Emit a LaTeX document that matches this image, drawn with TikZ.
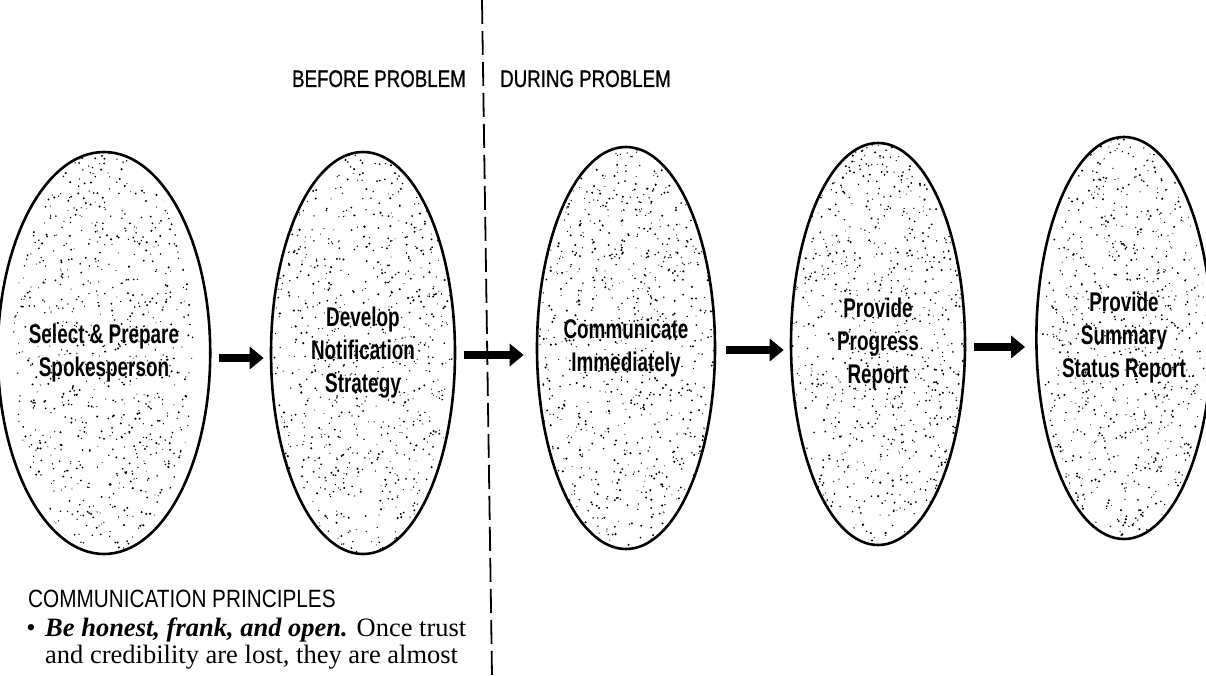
\documentclass[tikz,border=0pt]{standalone}
\usepackage{fontspec}
\setmainfont{Liberation Serif}
\newfontfamily\ellfont[FakeStretch=0.7]{Liberation Sans}
\newfontfamily\headfont[FakeStretch=0.78,FakeBold=0.8]{Liberation Sans}
\newfontfamily\princfont[FakeStretch=0.83]{Liberation Sans}
\usetikzlibrary{shapes.geometric,arrows.meta}

\newcommand{\stippleell}[3]{% coordinate name, a, b
  \begin{scope}
    \clip (#1) ellipse ({#2} and {#3});
    \foreach \k in {1,...,1000}{
      \pgfmathsetmacro{\px}{#2*rand}
      \pgfmathsetmacro{\py}{#3*rand}
      \pgfmathsetmacro{\pr}{0.5+0.7*rnd}
      \fill ([shift={(\px,\py)}]#1) circle (\pr pt);
    }
  \end{scope}}

\tikzset{
  stage/.style={ellipse, draw, line width=2.6pt, inner sep=0pt, align=center,
    font=\ellfont\bfseries\fontsize{27}{33}\selectfont},
  bigarrow/.style={line width=8.5pt, -{Triangle[length=14pt,width=22pt]}},
  divider/.style={line width=1.8pt, dash pattern=on 24pt off 7pt},
  head/.style={inner sep=0pt, font=\headfont\fontsize{24}{28}\selectfont},
  princ/.style={inner sep=0pt, font=\princfont\fontsize{25}{30}\selectfont},
  body/.style={inner sep=0pt, font=\fontsize{26.5}{27}\selectfont}
}

\begin{document}
\begin{tikzpicture}[x=1pt,y=-1pt]
\useasboundingbox (0,0) rectangle (1206,676);
\pgfmathsetseed{7}

\coordinate (c1) at (104,353);
\coordinate (c2) at (363,353);
\coordinate (c3) at (626,348);
\coordinate (c4) at (878,344);
\coordinate (c5) at (1124,338);

\stippleell{c1}{91}{201}
\stippleell{c2}{92}{201}
\stippleell{c3}{89}{201}
\stippleell{c4}{87}{201}
\stippleell{c5}{82}{201}

\node[stage, minimum width=182pt, minimum height=402pt] (e1) at (c1) {Select \& Prepare\\Spokesperson};
\node[stage, minimum width=184pt, minimum height=402pt] (e2) at (c2) {Develop\\Notification\\Strategy};
\node[stage, minimum width=178pt, minimum height=402pt] (e3) at (c3) {Communicate\\Immediately};
\node[stage, minimum width=174pt, minimum height=402pt] (e4) at (c4) {Provide\\Progress\\Report};
\node[stage, minimum width=164pt, minimum height=402pt] (e5) at (c5) {Provide\\Summary\\Status Report};

\draw[bigarrow, shorten <=7pt, shorten >=6pt] ([yshift=-5pt]e1.east) -- ([yshift=-5pt]e2.west);
\draw[bigarrow, shorten <=8pt, shorten >=12pt] ([yshift=-2pt]e2.east) -- ([yshift=-7pt]e3.west);
\draw[bigarrow, shorten <=10pt, shorten >=6pt] ([yshift=-2pt]e3.east) -- ([yshift=-6pt]e4.west);
\draw[bigarrow, shorten <=8pt, shorten >=10pt] ([yshift=-3pt]e4.east) -- ([yshift=-9pt]e5.west);

\coordinate (dtop) at (482,0);
\coordinate (dbot) at (492,676);
\draw[divider] (dtop) -- (dbot);

\node[head, anchor=base east] (before) at (466,87) {BEFORE PROBLEM};
\node[head, anchor=base west] (during) at (500,87) {DURING PROBLEM};

\node[princ, anchor=base west] (cp) at (28,607) {COMMUNICATION PRINCIPLES};
\node[body, anchor=base] (bul) at (31,636) {\textbullet};
\node[body, anchor=base west] (l1) at (45,636) {\textbf{\textit{Be honest, frank, and open.}} Once trust};
\node[body, anchor=base west] (l2) at (45,663) {and credibility are lost, they are almost};
\end{tikzpicture}
\end{document}
